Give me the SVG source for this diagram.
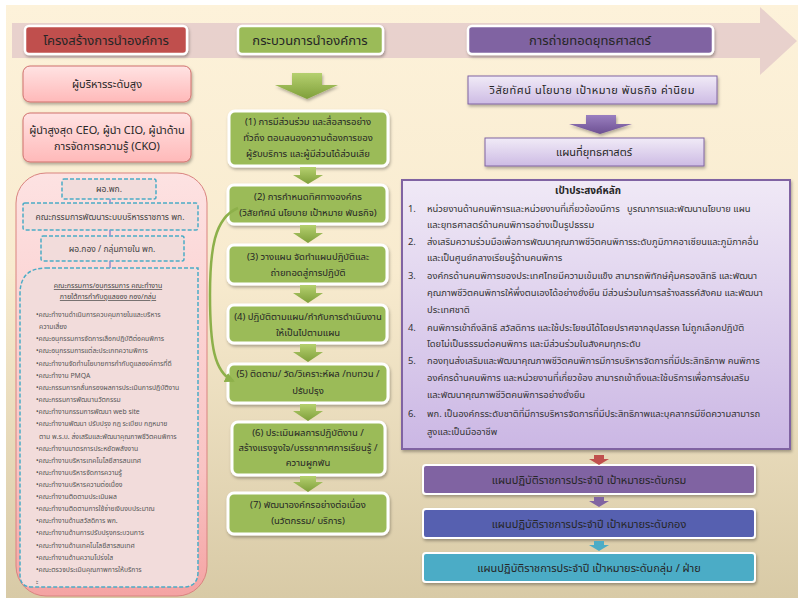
<svg xmlns="http://www.w3.org/2000/svg" width="798" height="598" viewBox="0 0 798 598">
<defs>
<linearGradient id="bg" x1="0" y1="0" x2="0" y2="1">
<stop offset="0" stop-color="#fdf2da"/><stop offset="0.45" stop-color="#f8ebcf"/><stop offset="1" stop-color="#d8caa6"/>
</linearGradient>
<linearGradient id="pinkBox" x1="0" y1="0" x2="0" y2="1">
<stop offset="0" stop-color="#ffe3e3"/><stop offset="1" stop-color="#ffb9b9"/>
</linearGradient>
<linearGradient id="pinkBig" x1="0" y1="0" x2="0" y2="1">
<stop offset="0" stop-color="#fde2e2"/><stop offset="0.7" stop-color="#f9c4c4"/><stop offset="1" stop-color="#f4a3a3"/>
</linearGradient>
<linearGradient id="lilac" x1="0" y1="0" x2="0" y2="1">
<stop offset="0" stop-color="#f1ebf7"/><stop offset="1" stop-color="#cdbbe4"/>
</linearGradient>
<linearGradient id="lilacBig" x1="0" y1="0" x2="0" y2="1">
<stop offset="0" stop-color="#f0e9f6"/><stop offset="1" stop-color="#cbb7e4"/>
</linearGradient>
<linearGradient id="greenArr" x1="0" y1="0" x2="0" y2="1">
<stop offset="0" stop-color="#b5d06f"/><stop offset="1" stop-color="#7f9f3a"/>
</linearGradient>
<linearGradient id="purpArr" x1="0" y1="0" x2="0" y2="1">
<stop offset="0" stop-color="#9a7fc0"/><stop offset="1" stop-color="#6d5092"/>
</linearGradient>
<filter id="sh" x="-10%" y="-10%" width="125%" height="140%">
<feDropShadow dx="1" dy="2" stdDeviation="1.5" flood-color="#000" flood-opacity="0.3"/>
</filter>
<marker id="gHead" viewBox="0 0 10 10" refX="8" refY="5" markerWidth="4" markerHeight="4" orient="auto">
<path d="M0,0 L10,5 L0,10 z" fill="#8db04a"/>
</marker>
<style>
text{font-family:"Noto Sans Thai","Leelawadee UI",Tahoma,"Noto Sans","DejaVu Sans",sans-serif;fill:#262626}
.hdr{font-size:13px;text-anchor:middle}
.mid{font-size:9.5px;text-anchor:middle}
.lft{font-size:11px;text-anchor:middle}
.dsh{font-size:8.5px;text-anchor:middle;fill:#444}
.ttl{font-size:7px;text-anchor:middle;fill:#444;text-decoration:underline}
.lst{font-size:6.8px;fill:#555}
.goal{font-size:9.4px;fill:#333;white-space:pre}
.plan{font-size:11px;text-anchor:middle}
.gbox{fill:#9bbb59;stroke:#fff;stroke-width:3}
.dbox{fill:#f2dcdb;stroke:#4bacc6;stroke-width:1.5;stroke-dasharray:4 2}
.garr{fill:url(#greenArr)}
</style>
</defs>
<rect width="798" height="598" fill="#ffffff"/>
<rect x="6" y="5" width="792" height="593" fill="url(#bg)"/>
<path d="M12,23 L760,23 L760,7 L797,41 L760,75 L760,58 L12,58 z" fill="#e6cdcb" opacity="0.9"/>

<g id="hdr-structure"><rect x="25" y="26" width="162" height="28" rx="4" fill="#c0504d" stroke="#fff" stroke-width="2.5" filter="url(#sh)"/><text class="hdr" x="106" y="45">โครงสร้างการนำองค์การ</text></g>
<g id="hdr-process"><rect x="238" y="26" width="145" height="28" rx="4" fill="#9bbb59" stroke="#fff" stroke-width="2.5" filter="url(#sh)"/><text class="hdr" x="310" y="45">กระบวนการนำองค์การ</text></g>
<g id="hdr-strategy"><rect x="468" y="26" width="245" height="28" rx="4" fill="#8064a2" stroke="#fff" stroke-width="2.5" filter="url(#sh)"/><text class="hdr" x="590" y="45">การถ่ายทอดยุทธศาสตร์</text></g>

<g id="top-exec"><rect x="23" y="66" width="168" height="36" rx="7" fill="url(#pinkBox)" stroke="#d0706d" stroke-width="1" filter="url(#sh)"/><text class="lft" x="107" y="88">ผู้บริหารระดับสูง</text></g>
<g id="ceo"><rect x="23" y="113" width="168" height="49" rx="7" fill="url(#pinkBox)" stroke="#d0706d" stroke-width="1" filter="url(#sh)"/><text class="lft" x="107" y="134">ผู้นำสูงสุด CEO, ผู้นำ CIO, ผู้นำด้าน</text><text class="lft" x="107" y="150">การจัดการความรู้ (CKO)</text></g>

<g id="org-panel">
<rect x="16" y="173" width="191" height="423" rx="30" fill="url(#pinkBig)" stroke="#d9837f" stroke-width="1"/>
</g>
<g id="director"><rect class="dbox" x="62" y="179" width="94" height="20" rx="2"/><text class="dsh" x="109" y="192">ผอ.พก.</text></g>
<g id="committee"><rect class="dbox" x="23" y="203" width="175" height="27" rx="2"/><text class="dsh" x="110" y="220">คณะกรรมการพัฒนาระบบบริหารราชการ พก.</text></g>
<g id="div-director"><rect class="dbox" x="41" y="236" width="143" height="25" rx="2"/><text class="dsh" x="112" y="252">ผอ.กอง / กลุ่มภายใน พก.</text></g>
<g id="working-groups">
<path class="dbox" d="M46,268 L198,268 L198,572 Q198,587 183,587 L32,587 Q20,587 20,575 L20,294 Q20,268 46,268 z"/>
<text class="ttl" x="108" y="288">คณะกรรมการ/อนุกรรมการ คณะทำงาน</text>
<text class="ttl" x="108" y="299">ภายใต้การกำกับดูแลของ กอง/กลุ่ม</text>
<text class="lst" x="36" y="317">•คณะทำงานดำเนินการควบคุมภายในและบริหาร</text>
<text class="lst" x="39" y="329">ความเสี่ยง</text>
<text class="lst" x="36" y="341">•คณะอนุกรรมการจัดการเลือกปฏิบัติต่อคนพิการ</text>
<text class="lst" x="36" y="353">•คณะอนุกรรมการแต่ละประเภทความพิการ</text>
<text class="lst" x="36" y="366">•คณะทำงานจัดทำนโยบายการกำกับดูแลองค์การที่ดี</text>
<text class="lst" x="36" y="378">•คณะทำงาน PMQA</text>
<text class="lst" x="36" y="390">•คณะกรรมการกลั่นกรองผลการประเมินการปฏิบัติงาน</text>
<text class="lst" x="36" y="402">•คณะกรรมการพัฒนานวัตกรรม</text>
<text class="lst" x="36" y="414">•คณะทำงานกรรมการพัฒนา web site</text>
<text class="lst" x="36" y="426">•คณะทำงานพัฒนา ปรับปรุง กฎ ระเบียบ กฎหมาย</text>
<text class="lst" x="39" y="439">ตาม พ.ร.บ. ส่งเสริมและพัฒนาคุณภาพชีวิตคนพิการ</text>
<text class="lst" x="36" y="451">•คณะทำงานมาตรการประหยัดพลังงาน</text>
<text class="lst" x="36" y="463">•คณะทำงานบริหารเทคโนโลยีสารสนเทศ</text>
<text class="lst" x="36" y="475">•คณะทำงานบริหารจัดการความรู้</text>
<text class="lst" x="36" y="487">•คณะทำงานบริหารความต่อเนื่อง</text>
<text class="lst" x="36" y="499">•คณะทำงานติดตามประเมินผล</text>
<text class="lst" x="36" y="511">•คณะทำงานติดตามการใช้จ่ายเงินงบประมาณ</text>
<text class="lst" x="36" y="523">•คณะทำงานด้านสวัสดิการ พก.</text>
<text class="lst" x="36" y="535">•คณะทำงานด้านการปรับปรุงกระบวนการ</text>
<text class="lst" x="36" y="548">•คณะทำงานด้านเทคโนโลยีสารสนเทศ</text>
<text class="lst" x="36" y="560">•คณะทำงานด้านความโปร่งใส</text>
<text class="lst" x="36" y="572">•คณะตรวจประเมินคุณภาพการให้บริการ</text>
<text class="lst" x="36" y="584">ะ</text>
</g>

<g id="step1"><rect class="gbox" x="229" y="111" width="159" height="55" rx="6" filter="url(#sh)"/><text class="mid" x="308" y="125">(1) การมีส่วนร่วม และสื่อสารอย่าง</text><text class="mid" x="308" y="141">ทั่วถึง ตอบสนองความต้องการของ</text><text class="mid" x="308" y="157">ผู้รับบริการ และผู้มีส่วนได้ส่วนเสีย</text></g>
<g id="step2"><rect class="gbox" x="228" y="185" width="159" height="39" rx="6" filter="url(#sh)"/><text class="mid" x="308" y="200">(2) การกำหนดทิศทางองค์กร</text><text class="mid" x="308" y="216">(วิสัยทัศน์ นโยบาย เป้าหมาย พันธกิจ)</text></g>
<g id="step3"><rect class="gbox" x="228" y="245" width="159" height="39" rx="6" filter="url(#sh)"/><text class="mid" x="308" y="260">(3) วางแผน จัดทำแผนปฏิบัติและ</text><text class="mid" x="308" y="276">ถ่ายทอดสู่การปฏิบัติ</text></g>
<g id="step4"><rect class="gbox" x="228" y="305" width="159" height="38" rx="6" filter="url(#sh)"/><text class="mid" x="308" y="320">(4) ปฏิบัติตามแผน/กำกับการดำเนินงาน</text><text class="mid" x="308" y="336">ให้เป็นไปตามแผน</text></g>
<g id="step5"><rect class="gbox" x="228" y="364" width="160" height="39" rx="6" filter="url(#sh)"/><text class="mid" x="308" y="377">(5) ติดตาม/ วัด/วิเคราะห์ผล /ทบทวน /</text><text class="mid" x="308" y="394">ปรับปรุง</text></g>
<g id="step6"><rect class="gbox" x="232" y="422" width="153" height="53" rx="6" filter="url(#sh)"/><text class="mid" x="308" y="436">(6) ประเมินผลการปฏิบัติงาน /</text><text class="mid" x="308" y="451">สร้างแรงจูงใจ/บรรยากาศการเรียนรู้ /</text><text class="mid" x="308" y="466">ความผูกพัน</text></g>
<g id="step7"><rect class="gbox" x="228" y="493" width="160" height="41" rx="6" filter="url(#sh)"/><text class="mid" x="308" y="508">(7) พัฒนาองค์กรอย่างต่อเนื่อง</text><text class="mid" x="308" y="524">(นวัตกรรม/ บริการ)</text></g>

<g id="vision"><rect x="468" y="76" width="249" height="28" fill="url(#lilac)" stroke="#8064a2" stroke-width="1" filter="url(#sh)"/><text class="plan" x="592" y="94" font-size="10.5px" textLength="205" lengthAdjust="spacing">วิสัยทัศน์ นโยบาย เป้าหมาย พันธกิจ ค่านิยม</text></g>
<g id="strategy-map"><rect x="485" y="138" width="219" height="28" fill="url(#lilac)" stroke="#8064a2" stroke-width="1" filter="url(#sh)"/><text class="plan" x="594" y="156">แผนที่ยุทธศาสตร์</text></g>
<g id="goals">
<rect x="402" y="180" width="388" height="269" fill="url(#lilacBig)" stroke="#8064a2" stroke-width="2" filter="url(#sh)"/>
<text x="588" y="194" font-size="10px" font-weight="bold" text-anchor="middle">เป้าประสงค์หลัก</text>
<text class="goal" x="408" y="212">1.</text><text class="goal" x="427" y="212">หน่วยงานด้านคนพิการและหน่วยงานที่เกี่ยวข้องมีการ   บูรณาการและพัฒนานโยบาย แผน</text>
<text class="goal" x="427" y="228">และยุทธศาสตร์ด้านคนพิการอย่างเป็นรูปธรรม</text>
<text class="goal" x="408" y="245">2.</text><text class="goal" x="427" y="245">ส่งเสริมความร่วมมือเพื่อการพัฒนาคุณภาพชีวิตคนพิการระดับภูมิภาคอาเซียนและภูมิภาคอื่น</text>
<text class="goal" x="427" y="261">และเป็นศูนย์กลางเรียนรู้ด้านคนพิการ</text>
<text class="goal" x="408" y="279">3.</text><text class="goal" x="427" y="279">องค์กรด้านคนพิการของประเทศไทยมีความเข้มแข็ง สามารถพิทักษ์คุ้มครองสิทธิ และพัฒนา</text>
<text class="goal" x="427" y="296">คุณภาพชีวิตคนพิการให้พึ่งตนเองได้อย่างยั่งยืน มีส่วนร่วมในการสร้างสรรค์สังคม และพัฒนา</text>
<text class="goal" x="427" y="313">ประเทศชาติ</text>
<text class="goal" x="408" y="331">4.</text><text class="goal" x="427" y="331">คนพิการเข้าถึงสิทธิ สวัสดิการ และใช้ประโยชน์ได้โดยปราศจากอุปสรรค ไม่ถูกเลือกปฏิบัติ</text>
<text class="goal" x="427" y="347">โดยไม่เป็นธรรมต่อคนพิการ และมีส่วนร่วมในสังคมทุกระดับ</text>
<text class="goal" x="408" y="364">5.</text><text class="goal" x="427" y="364">กองทุนส่งเสริมและพัฒนาคุณภาพชีวิตคนพิการมีการบริหารจัดการที่มีประสิทธิภาพ คนพิการ</text>
<text class="goal" x="427" y="381">องค์กรด้านคนพิการ และหน่วยงานที่เกี่ยวข้อง สามารถเข้าถึงและใช้บริการเพื่อการส่งเสริม</text>
<text class="goal" x="427" y="398">และพัฒนาคุณภาพชีวิตคนพิการอย่างยั่งยืน</text>
<text class="goal" x="408" y="417">6.</text><text class="goal" x="427" y="417">พก. เป็นองค์กรระดับชาติที่มีการบริหารจัดการที่มีประสิทธิภาพและบุคลากรมีขีดความสามารถ</text>
<text class="goal" x="427" y="435">สูงและเป็นมืออาชีพ</text>
</g>
<g id="plan-dept"><rect x="423" y="465" width="332" height="29" rx="3" fill="#8064a2" stroke="#fff" stroke-width="2" filter="url(#sh)"/><text class="plan" x="589" y="484">แผนปฏิบัติราชการประจำปี เป้าหมายระดับกรม</text></g>
<g id="plan-division"><rect x="423" y="509" width="332" height="29" rx="3" fill="#5660b0" stroke="#fff" stroke-width="2" filter="url(#sh)"/><text class="plan" x="589" y="528">แผนปฏิบัติราชการประจำปี เป้าหมายระดับกอง</text></g>
<g id="plan-group"><rect x="423" y="553" width="332" height="29" rx="3" fill="#4bacc6" stroke="#fff" stroke-width="2" filter="url(#sh)"/><text class="plan" x="589" y="572">แผนปฏิบัติราชการประจำปี เป้าหมายระดับกลุ่ม / ฝ่าย</text></g>

<g id="connectors">
<path d="M110,199 V203 M110,230 V236 M110,261 V268" stroke="#8f8fcf" stroke-width="1.5"/>
<path class="garr" d="M292,73 H322 V85 H338 L307,99 L275,85 H292 z" filter="url(#sh)"/>
<path class="garr" d="M300,167 H316 V175 H323 L308,184 L293,175 H300 z"/>
<path class="garr" d="M300,225 H316 V233 H323 L308,243 L293,233 H300 z"/>
<path class="garr" d="M300,285 H316 V293 H323 L308,303 L293,293 H300 z"/>
<path class="garr" d="M300,344 H316 V352 H323 L308,362 L293,352 H300 z"/>
<path class="garr" d="M300,404 H316 V411 H323 L308,421 L293,411 H300 z"/>
<path class="garr" d="M300,476 H316 V482 H323 L308,492 L293,482 H300 z"/>
<path d="M238,208 C214,218 210,250 210,295 C210,345 214,372 233,381" fill="none" stroke="#8db04a" stroke-width="2.5" marker-end="url(#gHead)"/>
<path d="M586,115 H616 V124 H632 L600,134 L569,124 H586 z" fill="url(#purpArr)" filter="url(#sh)"/>
<path d="M594,455 H604 V459 H609 L599,465 L589,459 H594 z" fill="#c0504d"/>
<path d="M594,497 H604 V501 H609 L599,507 L589,501 H594 z" fill="#8064a2"/>
<path d="M594,541 H604 V545 H609 L599,551 L589,545 H594 z" fill="#4bacc6"/>
</g>
</svg>
